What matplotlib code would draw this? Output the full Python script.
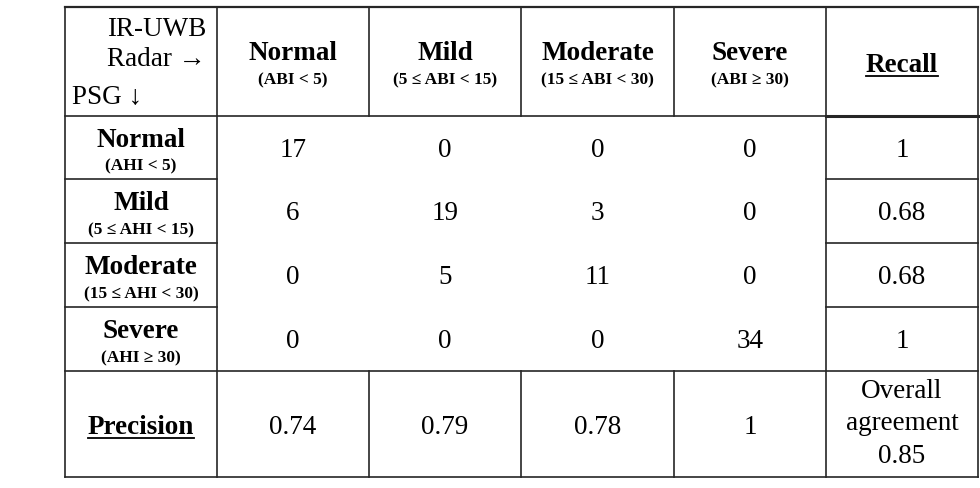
import matplotlib
matplotlib.use("Agg")
import matplotlib.pyplot as plt

# ---- data ----
col_titles = ["Normal", "Mild", "Moderate", "Severe"]
col_ranges = ["(ABI < 5)", "(5 ≤ ABI < 15)", "(15 ≤ ABI < 30)", "(ABI ≥ 30)"]
row_titles = ["Normal", "Mild", "Moderate", "Severe"]
row_ranges = ["(AHI < 5)", "(5 ≤ AHI < 15)", "(15 ≤ AHI < 30)", "(AHI ≥ 30)"]
counts = [[17, 0, 0, 0],
          [6, 19, 3, 0],
          [0, 5, 11, 0],
          [0, 0, 0, 34]]
recall = ["1", "0.68", "0.68", "1"]
precision = ["0.74", "0.79", "0.78", "1"]
overall = "0.85"

# ---- layout (pixel grid) ----
xe = [65, 217, 369, 521, 674, 826, 978]
ye = [7, 116, 179, 243, 307, 371, 477]
FONT = "Liberation Serif"
BIG = 19.5
SMALL = 12.5
LC = "#262626"
LW = 1.2
DY = 3  # vertical nudge for centred text

fig = plt.figure(figsize=(9.8, 4.88), dpi=100)
ax = fig.add_axes([0, 0, 1, 1])
ax.set_xlim(0, 980)
ax.set_ylim(488, 0)
ax.axis("off")

def hline(y, x0, x1, lw=LW):
    ax.plot([x0, x1], [y, y], color=LC, lw=lw, solid_capstyle="projecting")

def vline(x, y0, y1, lw=LW):
    ax.plot([x, x], [y0, y1], color=LC, lw=lw, solid_capstyle="projecting")

# outer border
hline(ye[0], xe[0], xe[-1], lw=1.6)
hline(ye[-1], xe[0], xe[-1])
vline(xe[0], ye[0], ye[-1])
vline(xe[-1], ye[0], ye[-1])
# header bottom
hline(ye[1], xe[0], xe[5])
hline(ye[1], xe[5], xe[6], lw=2.2)
# precision top
hline(ye[5], xe[0], xe[-1])
# row separators in first and last columns
for y in ye[2:5]:
    hline(y, xe[0], xe[1])
    hline(y, xe[5], xe[6])
# vertical lines
vline(xe[1], ye[0], ye[-1])
vline(xe[5], ye[0], ye[-1])
for x in xe[2:5]:
    vline(x, ye[0], ye[1])
    vline(x, ye[5], ye[6])

def cx(i):
    return (xe[i] + xe[i + 1]) / 2

def cy(j):
    return (ye[j] + ye[j + 1]) / 2

def txt(x, y, s, size=BIG, weight="normal", ha="center", va="center", ls=1.2):
    if va == "center":
        y = y + DY
    return ax.text(x, y, s, fontsize=size, fontweight=weight, ha=ha, va=va,
                   family=[FONT, "DejaVu Serif"], color="black", linespacing=ls)

# corner cell
txt(107, 26, "IR-UWB", ha="left")
txt(107, 57, "Radar →", ha="left")
txt(72, 94, "PSG ↓", ha="left")

# column headers
for i, (t, r) in enumerate(zip(col_titles, col_ranges)):
    txt(cx(i + 1), cy(0) - 11, t, weight="bold")
    txt(cx(i + 1), cy(0) + 16, r, size=SMALL, weight="bold")

# row headers and cells
for j, (t, r) in enumerate(zip(row_titles, row_ranges)):
    txt(cx(0), cy(j + 1) - 10, t, weight="bold")
    txt(cx(0), cy(j + 1) + 16, r, size=SMALL, weight="bold")
    for i, v in enumerate(counts[j]):
        txt(cx(i + 1), cy(j + 1), str(v))
    txt(cx(5), cy(j + 1), recall[j])

# precision row
for i, v in enumerate(precision):
    txt(cx(i + 1), cy(5), v)
txt(cx(5), cy(5) - 3, "Overall\nagreement\n" + overall, ls=1.42)

# underlined headers
und = [txt(cx(5), 72, "Recall", weight="bold", va="baseline"),
       txt(cx(0), 434, "Precision", weight="bold", va="baseline")]
fig.canvas.draw()
inv = ax.transData.inverted()
for t in und:
    bb = t.get_window_extent()
    (x0, _), (x1, _) = inv.transform([[bb.x0, bb.y0], [bb.x1, bb.y1]])
    y = t.get_position()[1] + 4
    ax.plot([x0, x1], [y, y], color="black", lw=1.3)

fig.savefig("out.png", dpi=100, facecolor="white")
